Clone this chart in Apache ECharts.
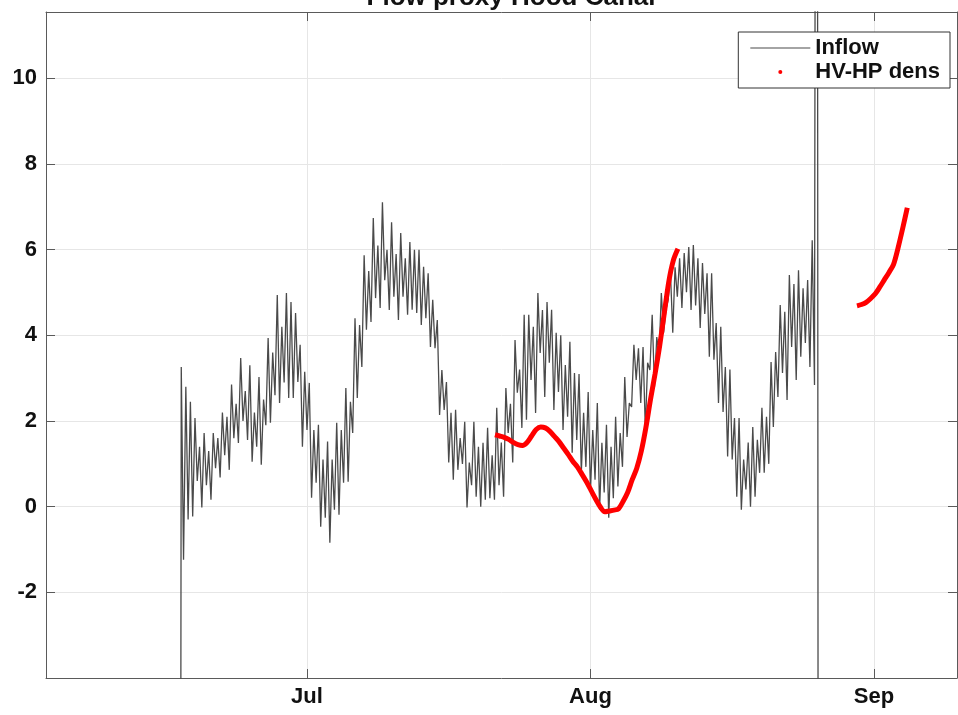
<!DOCTYPE html>
<html><head><meta charset="utf-8">
<script src="https://cdn.jsdelivr.net/npm/echarts@6/dist/echarts.min.js"></script>
<style>html,body{margin:0;padding:0;background:#fff}#c{width:958px;height:715px}</style>
</head><body><div id="c"></div>
<script>
const titleText = 'Flow proxy Hood Canal';
const refDate = '2021-07-01T00:00';
const xMinDate = '2021-06-02T11:00';
const xMaxDate = '2021-09-10T02:00';
const monthTickDates = ['2021-07-01T00:00', '2021-08-01T00:00', '2021-09-01T00:00'];
const monthTickLabels = ['Jul', 'Aug', 'Sep'];
const yTickLabels = [-2, 0, 2, 4, 6, 8, 10];
const yMin = -4, yMax = 11.55, yStep = 2;

const inflowName = 'Inflow';
const inflowStart = '2021-06-17T00:00';
const inflowStepHours = 6;
const inflow = [
  -40, 3.26, -1.24, 2.8,
  -0.3, 2.45, -0.23, 2.07,
  0.6, 1.4, -0.02, 1.72,
  0.5, 1.3, 0.16, 1.72,
  0.9, 1.6, 0.68, 2.2,
  1.2, 2.1, 0.86, 2.85,
  1.6, 2.4, 1.49, 3.47,
  2.0, 2.7, 1.56, 3.3,
  1.05, 2.2, 1.4, 3.03,
  0.98, 2.5, 1.9, 3.94,
  1.96, 3.6, 2.6, 4.94,
  2.42, 4.2, 2.9, 4.99,
  2.54, 4.78, 2.54, 4.52,
  2.91, 3.78, 1.4, 3.15,
  1.79, 2.89, 0.21, 1.79,
  0.56, 1.91, -0.47, 1.1,
  -0.26, 1.52, -0.84, 1.1,
  -0.07, 1.96, -0.19, 1.79,
  0.56, 2.77, 0.58, 2.45,
  1.72, 4.4, 2.54, 4.24,
  3.26, 5.87, 4.13, 5.5,
  4.31, 6.74, 4.87, 6.1,
  4.64, 7.11, 5.29, 6.0,
  4.59, 6.64, 4.9, 5.9,
  4.36, 6.39, 4.9, 5.8,
  4.48, 6.18, 4.6, 6.0,
  4.52, 6.0, 4.24, 5.6,
  4.4, 5.45, 3.73, 4.83,
  3.7, 4.36, 2.14, 3.19,
  2.26, 2.91, 1.03, 2.19,
  0.63, 2.26, 0.86, 1.6,
  1.0, 1.98, -0.02, 1.03,
  0.5, 1.98, 0.23, 1.4,
  0.0, 1.49, 0.16, 1.84,
  0.2, 1.2, 0.16, 2.31,
  0.5, 1.5, 0.23, 2.77,
  1.72, 2.4, 1.03, 3.89,
  2.66, 3.2, 1.84, 4.48,
  2.03, 4.48, 2.96, 4.2,
  2.19, 4.99, 3.59, 4.59,
  2.56, 4.78, 3.36, 4.6,
  2.26, 4.06, 2.68, 4.0,
  1.79, 3.31, 2.1, 3.85,
  1.26, 3.12, 1.56, 3.1,
  0.79, 2.19, 0.93, 2.68,
  0.35, 1.79, 0.63, 2.42,
  -0.07, 1.49, 0.33, 1.91,
  -0.26, 1.4, 0.2, 2.1,
  0.47, 1.72, 0.93, 3.03,
  1.63, 2.42, 2.33, 3.78,
  2.96, 3.7, 2.42, 3.73,
  1.79, 3.36, 3.19, 4.48,
  2.8, 3.96, 3.54, 4.99,
  4.06, 4.6, 4.83, 5.45,
  4.06, 5.59, 4.9, 5.8,
  4.64, 5.92, 5.01, 6.06,
  4.59, 6.11, 4.7, 5.8,
  4.17, 5.69, 4.5, 5.45,
  3.5, 5.45, 3.43, 4.29,
  2.42, 4.2, 2.21, 3.26,
  1.17, 3.2, 1.1, 2.07,
  0.23, 2.07, -0.07, 1.1,
  0.4, 1.5, 0.0, 1.86,
  0.23, 1.56, 0.79, 2.31,
  0.79, 2.1, 1.0, 3.38,
  1.86, 3.61, 2.56, 4.71,
  3.12, 4.55, 2.49, 5.41,
  3.73, 5.2, 2.96, 5.52,
  3.5, 5.1, 3.82, 5.29,
  3.26, 6.22, 2.84, 40,
  -40
];

const densName = 'HV-HP dens';
const densStepHours = 12;
const densSeg1Start = '2021-07-21T13:30';
const densSeg1 = [1.68, 1.65, 1.62, 1.57, 1.50, 1.45, 1.43, 1.50, 1.65, 1.80,
  1.86, 1.84, 1.76, 1.64, 1.52, 1.37, 1.22, 1.06, 0.93, 0.76,
  0.58, 0.38, 0.18, 0.0, -0.12, -0.10, -0.08, -0.05, 0.12, 0.33,
  0.63, 0.90, 1.30, 1.85, 2.50, 3.10, 3.75, 4.50, 5.25, 5.75, 6.02];
const densSeg2Start = '2021-08-30T03:30';
const densSeg2 = [4.69, 4.72, 4.77, 4.86, 4.97, 5.13, 5.30, 5.47, 5.66, 6.05, 6.50, 6.98];

function toDays(s) { return (Date.parse(s + 'Z') - Date.parse(refDate + 'Z')) / 86400000; }
function series2d(start, stepH, vals) {
  const s0 = toDays(start);
  return vals.map((v, i) => [s0 + i * stepH / 24, v]);
}
const tickDays = monthTickDates.map(toDays);
const monthLabel = v => { const i = tickDays.findIndex(t => Math.abs(t - v) < 1e-6); return i >= 0 ? monthTickLabels[i] : ''; };

const FONT = 'Liberation Sans, Arial, Helvetica, sans-serif';
const AX = '#5a5a5a';
const GRIDC = '#e6e6e6';
const xMin = toDays(xMinDate), xMax = toDays(xMaxDate);

const chart = echarts.init(document.getElementById('c'), null, { renderer: 'canvas' });
chart.setOption({
  animation: false,
  backgroundColor: '#fff',
  title: {
    text: titleText, left: 506, top: -20, textAlign: 'center',
    textStyle: { fontFamily: FONT, fontSize: 26, fontWeight: 'bold', color: '#111' }
  },
  grid: { left: 46, right: 1, top: 12, bottom: 37, containLabel: false },
  legend: {
    orient: 'vertical', right: 8, top: 32,
    backgroundColor: '#fff', borderColor: '#333', borderWidth: 1,
    padding: [5, 10, 5, 12], itemGap: 2, itemWidth: 60, itemHeight: 14,
    textStyle: { fontFamily: FONT, fontSize: 22, fontWeight: 'bold', color: '#111' },
    data: [
      { name: inflowName, icon: 'path://M0,0M60,14M0,6.5h60v1h-60z' },
      { name: densName, icon: 'path://M0,0M60,14M28,7a2,2 0 1,0 4,0a2,2 0 1,0 -4,0z' }
    ],
    z: 10
  },
  xAxis: [{
    type: 'value', min: xMin, max: xMax, position: 'bottom',
    axisLine: { show: true, onZero: false, lineStyle: { color: AX, width: 1 } },
    axisTick: { show: true, inside: true, length: 9, customValues: tickDays, lineStyle: { color: AX } },
    axisLabel: { customValues: tickDays, formatter: monthLabel, fontFamily: FONT, fontSize: 22, fontWeight: 'bold', color: '#111', margin: 8 },
    splitLine: { show: true, lineStyle: { color: GRIDC, width: 1 } }
  }, {
    type: 'value', min: xMin, max: xMax, position: 'top',
    axisLine: { show: true, onZero: false, lineStyle: { color: AX, width: 1 } },
    axisTick: { show: true, inside: true, length: 9, customValues: tickDays, lineStyle: { color: AX } },
    axisLabel: { show: false }, splitLine: { show: false }
  }],
  yAxis: [{
    type: 'value', min: yMin, max: yMax, interval: yStep, position: 'left',
    axisLine: { show: true, onZero: false, lineStyle: { color: AX, width: 1 } },
    axisTick: { show: true, inside: true, length: 9, lineStyle: { color: AX } },
    axisLabel: {
      formatter: v => (yTickLabels.includes(v) ? String(v) : ''),
      fontFamily: FONT, fontSize: 22, fontWeight: 'bold', color: '#111', margin: 9
    },
    splitLine: { show: true, lineStyle: { color: GRIDC, width: 1 } }
  }, {
    type: 'value', min: yMin, max: yMax, interval: yStep, position: 'right',
    axisLine: { show: true, onZero: false, lineStyle: { color: AX, width: 1 } },
    axisTick: { show: true, inside: true, length: 9, lineStyle: { color: AX } },
    axisLabel: { show: false }, splitLine: { show: false }
  }],
  series: [{
    name: inflowName, type: 'line', symbol: 'none', showSymbol: false,
    data: series2d(inflowStart, inflowStepHours, inflow),
    lineStyle: { color: '#4a4a4a', width: 1.3 }, itemStyle: { color: '#4a4a4a' },
    clip: true, z: 2
  }, {
    name: densName, type: 'line', symbol: 'none', showSymbol: false, smooth: 0.3,
    data: series2d(densSeg1Start, densStepHours, densSeg1),
    lineStyle: { color: '#ff0000', width: 5 }, itemStyle: { color: '#ff0000' },
    clip: true, z: 3
  }, {
    name: densName, type: 'line', symbol: 'none', showSymbol: false, smooth: 0.3,
    data: series2d(densSeg2Start, densStepHours, densSeg2),
    lineStyle: { color: '#ff0000', width: 5 }, itemStyle: { color: '#ff0000' },
    clip: true, z: 3
  }]
});
</script></body></html>
